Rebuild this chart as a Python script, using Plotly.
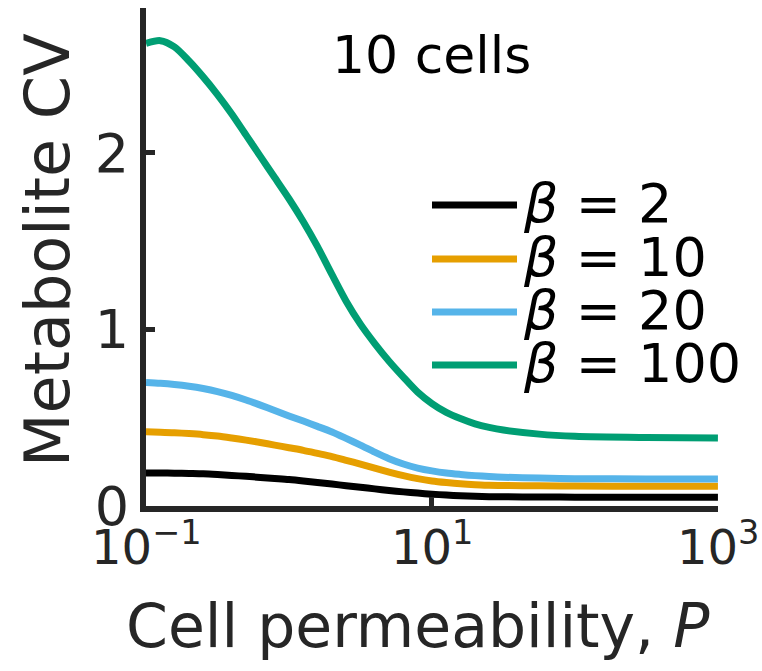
import math
import plotly.graph_objects as go

# Cell permeability P (log-spaced sample points)
permeability = [0.1, 0.126, 0.158, 0.2, 0.251, 0.316, 0.398, 0.501, 0.631, 0.794,
                1.0, 1.26, 1.58, 2.0, 2.51, 3.16, 3.98, 5.01, 6.31, 7.94,
                10.0, 12.6, 15.8, 20.0, 25.1, 31.6, 56.2, 100.0, 316.0, 1000.0]

# Metabolite coefficient of variation for each beta
cv_beta2 = [0.187, 0.187, 0.186, 0.184, 0.182, 0.178, 0.173, 0.168, 0.162, 0.156,
            0.150, 0.142, 0.133, 0.124, 0.115, 0.106, 0.097, 0.088, 0.080, 0.073,
            0.067, 0.062, 0.058, 0.055, 0.053, 0.052, 0.051, 0.050, 0.050, 0.050]
cv_beta10 = [0.420, 0.418, 0.415, 0.410, 0.404, 0.396, 0.385, 0.373, 0.360, 0.345,
             0.330, 0.315, 0.298, 0.280, 0.259, 0.237, 0.214, 0.192, 0.172, 0.155,
             0.142, 0.133, 0.126, 0.121, 0.118, 0.116, 0.114, 0.113, 0.112, 0.112]
cv_beta20 = [0.700, 0.695, 0.688, 0.678, 0.665, 0.648, 0.626, 0.600, 0.571, 0.541,
             0.510, 0.481, 0.451, 0.419, 0.383, 0.345, 0.305, 0.268, 0.238, 0.215,
             0.199, 0.187, 0.179, 0.172, 0.167, 0.163, 0.158, 0.155, 0.153, 0.153]
cv_beta100 = [2.620, 2.635, 2.600, 2.520, 2.430, 2.330, 2.220, 2.100, 1.980, 1.860,
              1.740, 1.610, 1.470, 1.310, 1.160, 1.030, 0.920, 0.820, 0.730, 0.645,
              0.580, 0.530, 0.495, 0.465, 0.445, 0.430, 0.407, 0.395, 0.388, 0.385]

betas = [2, 10, 20, 100]
series = [cv_beta2, cv_beta10, cv_beta20, cv_beta100]
colors = ["#000000", "#E69F00", "#56B4E9", "#009E73"]

x_tickvals = [0.1, 10, 1000]
x_ticktext = ["10<sup>−1</sup>", "10<sup>1</sup>", "10<sup>3</sup>"]
y_ticks = [0, 1, 2]
title_text = "10 cells"
x_label = "Cell permeability, <i>P</i>"
y_label = "Metabolite CV"

FONT = "DejaVu Sans"
INK = "#262626"
W, H = 762, 671
L, R, T, B = 146, 44, 8, 165
PW, PH = W - L - R, H - T - B


def px(x):
    return (x - L) / PW


def py(y):
    return (H - B - y) / PH


fig = go.Figure()
for beta, cv, color in zip(betas, series, colors):
    fig.add_trace(go.Scatter(
        x=permeability, y=cv, mode="lines", name=f"β = {beta}",
        line=dict(color=color, width=7, shape="spline", smoothing=0.8),
        showlegend=False,
    ))

# legend drawn as line samples plus labels
row_y = [205, 259, 312, 365]
for beta, color, ry in zip(betas, colors, row_y):
    fig.add_shape(type="line", xref="paper", yref="paper",
                  x0=px(432), x1=px(517), y0=py(ry), y1=py(ry),
                  line=dict(color=color, width=7))
    fig.add_annotation(xref="paper", yref="paper", x=px(521), y=py(ry - 2),
                       xanchor="left", yanchor="middle", showarrow=False,
                       text=f"<i>β</i> = {beta}",
                       font=dict(family=FONT, size=54, color="#000000"))

# x tick labels under their ticks (annotations on a log axis take log10 positions)
for val, txt in zip(x_tickvals, x_ticktext):
    fig.add_annotation(xref="x", yref="paper", x=math.log10(val), y=py(544),
                       xanchor="center", yanchor="middle", showarrow=False,
                       text=txt, font=dict(family=FONT, size=48, color=INK))

fig.add_annotation(xref="paper", yref="paper", x=px(431), y=py(55),
                   xanchor="center", yanchor="middle", showarrow=False,
                   text=title_text, font=dict(family=FONT, size=52, color="#000000"))
fig.add_annotation(xref="paper", yref="paper", x=px(418), y=py(626),
                   xanchor="center", yanchor="middle", showarrow=False,
                   text=x_label, font=dict(family=FONT, size=60, color=INK))
fig.add_annotation(xref="paper", yref="paper", x=px(47), y=py(250),
                   xanchor="center", yanchor="middle", showarrow=False, textangle=-90,
                   text=y_label, font=dict(family=FONT, size=62, color=INK))

axis_common = dict(
    showline=True, linewidth=6, linecolor=INK, mirror=False,
    ticks="inside", ticklen=9, tickwidth=5, tickcolor=INK,
    showgrid=False, zeroline=False,
)
fig.update_xaxes(type="log", range=[-1, 3.0005], tickvals=x_tickvals,
                 showticklabels=False, **axis_common)
fig.update_yaxes(range=[0, 2.82], tickvals=y_ticks,
                 tickfont=dict(family=FONT, size=54, color=INK), **axis_common)

fig.update_layout(
    width=W, height=H, margin=dict(l=L, r=R, t=T, b=B, pad=0),
    paper_bgcolor="white", plot_bgcolor="white",
    font=dict(family=FONT, color=INK),
)
fig.write_html("out.html")
